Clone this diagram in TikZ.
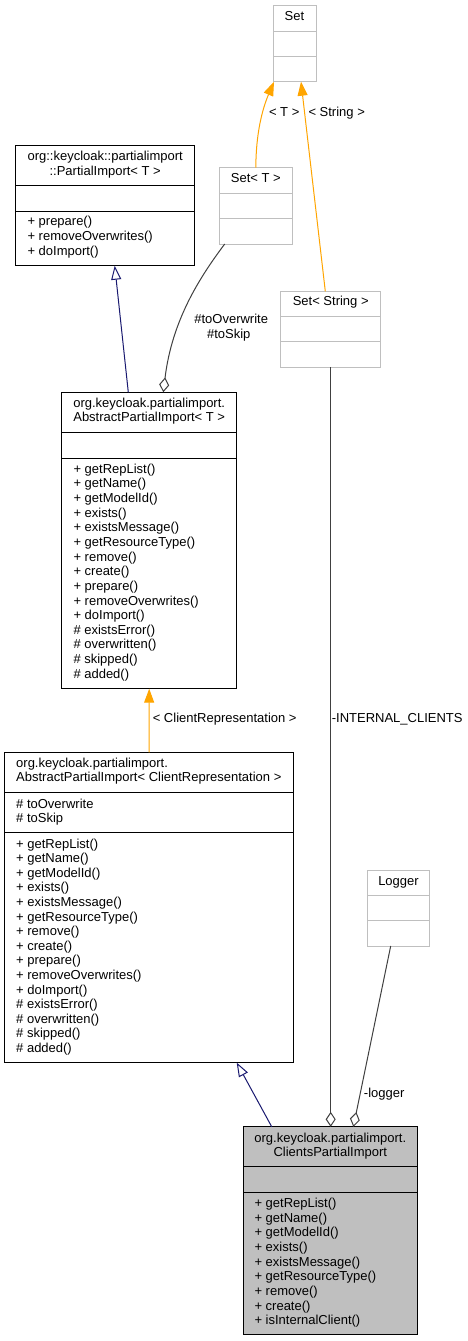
\documentclass[tikz,border=0pt]{standalone}
\usepackage{fontspec}
\setmainfont{Liberation Sans}
\usetikzlibrary{arrows.meta,calc}
\definecolor{edgegray}{HTML}{404040}
\definecolor{lightborder}{HTML}{BFBFBF}
\definecolor{navyedge}{HTML}{191970}
\definecolor{orangeedge}{HTML}{FFA500}
\definecolor{fillgray}{HTML}{BFBFBF}
\newcommand\umlfont{\fontsize{13}{15}\selectfont}
\newcommand\umlbox[8]{%
  \node[#2, minimum width={#5-#3}, minimum height={#6-#4}] (#1) at (#3,#4) {};
  \draw[divline, draw=#2col] (#3,#7) -- (#5,#7) (#3,#8) -- (#5,#8);
}
\tikzset{
  blk/.style={draw=black, line width=1pt, inner sep=0pt, outer sep=0pt, anchor=north west},
  lgt/.style={draw=lightborder, line width=1pt, inner sep=0pt, outer sep=0pt, anchor=north west},
  gry/.style={draw=black, fill=fillgray, line width=1pt, inner sep=0pt, outer sep=0pt, anchor=north west},
  divline/.style={line width=1pt},
  txt/.style={inner sep=0pt, anchor=base west, font=\umlfont},
  ctr/.style={inner sep=0pt, anchor=base, font=\umlfont},
  inh/.style={draw=navyedge, line width=1pt, -{Triangle[open, length=14pt, width=10pt, fill=white]}},
  tmpl/.style={draw=orangeedge, line width=1pt, -{Triangle[length=14pt, width=10pt, fill=orangeedge]}},
  agg/.style={draw=edgegray, line width=1pt, -{Diamond[open, length=15pt, width=10pt, fill=white]}},
}
\colorlet{blkcol}{black}
\colorlet{lgtcol}{lightborder}
\colorlet{grycol}{black}
\begin{document}
\begin{tikzpicture}[x=1pt,y=-1pt]
\useasboundingbox[fill=white] (0,0) rectangle (467,1341);

% ---------- boxes ----------
\umlbox{set}{lgt}{273}{5.7}{316}{81.7}{31.7}{56.7}
\umlbox{setT}{lgt}{219}{167.7}{292.7}{244}{193}{218}
\umlbox{setS}{lgt}{280.7}{291.3}{380.7}{367.3}{316.3}{341.7}
\umlbox{logger}{lgt}{367.7}{870}{429.3}{946}{895.2}{920.4}
\umlbox{pimp}{blk}{15.7}{145.7}{194.7}{265.7}{185.7}{211}
\umlbox{absT}{blk}{61.7}{392.3}{236.7}{688.7}{432.3}{458}
\umlbox{absCR}{blk}{4.7}{752.3}{293.3}{1062.6}{792.3}{832.5}
\umlbox{clients}{gry}{243}{1126.8}{417.7}{1334}{1166.7}{1192.2}

% ---------- titles ----------
\node[ctr] (set-t) at (294.5,20.9) {Set};
\node[ctr] (setT-t) at (255.9,182.9) {Set< T >};
\node[ctr] (setS-t) at (330.7,305.9) {Set< String >};
\node[ctr] (logger-t) at (398.5,885.1) {Logger};
\node[ctr] (pimp-t1) at (105.2,160.9) {org::keycloak::partialimport};
\node[ctr] (pimp-t2) at (105.2,175.9) {::PartialImport< T >};
\node[ctr] (absT-t1) at (149.2,407.9) {org.keycloak.partialimport.};
\node[ctr] (absT-t2) at (149.2,421.9) {AbstractPartialImport< T >};
\node[txt] (absCR-t1) at (16,767.9) {org.keycloak.partialimport.};
\node[txt] (absCR-t2) at (16,781.9) {AbstractPartialImport< ClientRepresentation >};
\node[ctr] (clients-t1) at (330.3,1142.6) {org.keycloak.partialimport.};
\node[ctr] (clients-t2) at (330.3,1156.6) {ClientsPartialImport};

% ---------- members ----------
\foreach \t [count=\i from 0] in {+ prepare(),+ removeOverwrites(),+ doImport()}
  \node[txt] (pimp-m\i) at (27.3,{225.9+\i*15}) {\t};
\foreach \t [count=\i from 0] in {+ getRepList(),+ getName(),+ getModelId(),+ exists(),+ existsMessage(),+ getResourceType(),+ remove(),+ create(),+ prepare(),+ removeOverwrites(),+ doImport(),\# existsError(),\# overwritten(),\# skipped(),\# added()}
  \node[txt] (absT-m\i) at (73.3,{473.3+\i*14.64}) {\t};
\node[txt] (absCR-a0) at (16,808) {\# toOverwrite};
\node[txt] (absCR-a1) at (16,822.1) {\# toSkip};
\foreach \t [count=\i from 0] in {+ getRepList(),+ getName(),+ getModelId(),+ exists(),+ existsMessage(),+ getResourceType(),+ remove(),+ create(),+ prepare(),+ removeOverwrites(),+ doImport(),\# existsError(),\# overwritten(),\# skipped(),\# added()}
  \node[txt] (absCR-m\i) at (16,{848+\i*14.61}) {\t};
\foreach \t [count=\i from 0] in {+ getRepList(),+ getName(),+ getModelId(),+ exists(),+ existsMessage(),+ getResourceType(),+ remove(),+ create(),+ isInternalClient()}
  \node[txt] (clients-m\i) at (254.3,{1207.3+\i*14.7}) {\t};

% ---------- connectors ----------
\draw[tmpl] (setT.north) .. controls ([yshift=33]setT.north) and ([xshift=-11,yshift=-28]set.south west) .. ([xshift=1]set.south west);
\draw[tmpl] ([xshift=-5.4]setS.north) -- ([xshift=6.5]set.south);
\draw[inh] ([xshift=-20.9]absT.north) -- ([xshift=9.5]pimp.south);
\draw[agg] ([xshift=5.7]setT.south west) .. controls ([xshift=-19,yshift=-33]setT.south west) and ([xshift=22.8,yshift=72.3]absT.north) .. ([xshift=14.1]absT.north);
\draw[tmpl] (absCR.north) -- (absT.south);
\draw[agg] (setS.south) -- (setS.south |- clients.north);
\draw[agg] ([xshift=-7.8]logger.south) -- ([xshift=23]clients.north);
\draw[inh] ([xshift=-58.6]clients.north) -- ([xshift=87.7]absCR.south);

% ---------- edge labels ----------
\node[ctr] (lblT) at (284.2,116.1) {< T >};
\node[ctr] (lblS) at (336.7,116.1) {< String >};
\node[ctr] (lblOw) at (231.2,323.9) {\#toOverwrite};
\node[ctr] (lblSk) at (228.7,338.6) {\#toSkip};
\node[ctr] (lblCR) at (224.7,722.9) {< ClientRepresentation >};
\node[ctr] (lblIC) at (397.2,722.9) {-INTERNAL\_CLIENTS};
\node[ctr] (lblLog) at (384.2,1097.9) {-logger};
\end{tikzpicture}
\end{document}
